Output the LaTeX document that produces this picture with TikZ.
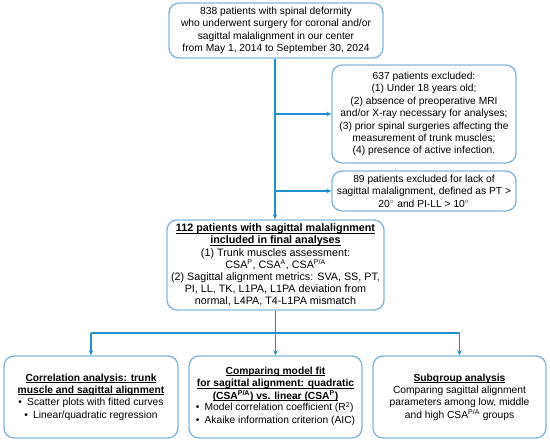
\documentclass[tikz,border=0pt]{standalone}
\usepackage{fontspec}
\setmainfont{Liberation Sans}
\usetikzlibrary{arrows.meta}
\definecolor{boxc}{HTML}{86B8DE}
\definecolor{linec}{HTML}{2090D0}
\newcommand{\ul}[1]{\setbox0\hbox{#1}\rlap{\rule[-1.5bp]{\wd0}{0.7bp}}\box0}
\newcommand{\sps}[1]{\textsuperscript{\scriptsize #1}}
\tikzset{
  box/.style={draw=boxc, line width=1.4bp, rounded corners=10bp, align=center,
    font=\fontsize{10.3}{12.4}\selectfont, inner sep=1bp},
  conn/.style={draw=linec, line width=1.3bp},
  arr/.style={conn, -{Stealth[length=5bp,width=4.5bp]}}
}
\begin{document}
\begin{tikzpicture}[x=1bp,y=-1bp]
\useasboundingbox[fill=white] (0,0) rectangle (550,444);
\node[box, minimum width=214bp, minimum height=55bp] (top) at (276,30.5)
 {838 patients with spinal deformity\\who underwent surgery for coronal and/or\\sagittal malalignment in our center\\from May 1, 2014 to September 30, 2024};
\node[box, minimum width=184bp, minimum height=98bp] (ex1) at (424,114)
 {637 patients excluded:\\(1) Under 18 years old;\\(2) absence of preoperative MRI\\and/or X-ray necessary for analyses;\\(3) prior spinal surgeries affecting the\\measurement of trunk muscles;\\(4) presence of active infection.};
\node[box, minimum width=184bp, minimum height=40bp] (ex2) at (424,191)
 {89 patients excluded for lack of\\sagittal malalignment, defined as PT \textgreater\\20\sps{$\circ$} and PI-LL \textgreater{} 10\sps{$\circ$}};
\node[box, minimum width=217bp, minimum height=90bp, font=\fontsize{10.8}{12.2}\selectfont] (main) at (275.5,265)
 {\textbf{\ul{112 patients with sagittal malalignment}}\\\textbf{\ul{included in final analyses}}\\(1) Trunk muscles assessment:\\CSA\sps{P}, CSA\sps{A}, CSA\sps{P/A}\\(2) Sagittal alignment metrics: SVA, SS, PT,\\PI, LL, TK, L1PA, L1PA deviation from\\normal, L4PA, T4-L1PA mismatch};
\node[box, minimum width=174bp, minimum height=82bp] (b1) at (91,397)
 {\textbf{\ul{Correlation analysis: trunk}}\\\textbf{\ul{muscle and sagittal alignment}}\\•\enspace Scatter plots with fitted curves\\•\enspace Linear/quadratic regression};
\node[box, minimum width=173bp, minimum height=82bp] (b2) at (275.5,397)
 {\textbf{\ul{Comparing model fit}}\\\textbf{\ul{for sagittal alignment: quadratic}}\\\textbf{\ul{(CSA\sps{P/A}) vs. linear (CSA\sps{P})}}\\
 \begin{tabular}{@{}l@{}}•\enspace Model correlation coefficient (R\sps{2})\\•\enspace Akaike information criterion (AIC)\end{tabular}};
\node[box, minimum width=173bp, minimum height=82bp] (b3) at (459.5,397)
 {\textbf{\ul{Subgroup analysis}}\\Comparing sagittal alignment\\parameters among low, middle\\and high CSA\sps{P/A} groups};
\coordinate (j1) at (275,114);
\coordinate (j2) at (275,191);
\coordinate (hl) at (91,333);
\coordinate (hm) at (275.5,333);
\coordinate (hr) at (459.5,333);
\draw[arr] (top.south -| j1) -- (main.north -| j1);
\draw[arr] (j1) -- (ex1.west |- j1);
\draw[arr] (j2) -- (ex2.west |- j2);
\draw[conn] (main.south) -- (hm);
\draw[conn] (hl) -- (hr);
\draw[arr] (hl) -- (b1.north);
\draw[arr] (hm) -- (b2.north);
\draw[arr] (hr) -- (b3.north);
\end{tikzpicture}
\end{document}
